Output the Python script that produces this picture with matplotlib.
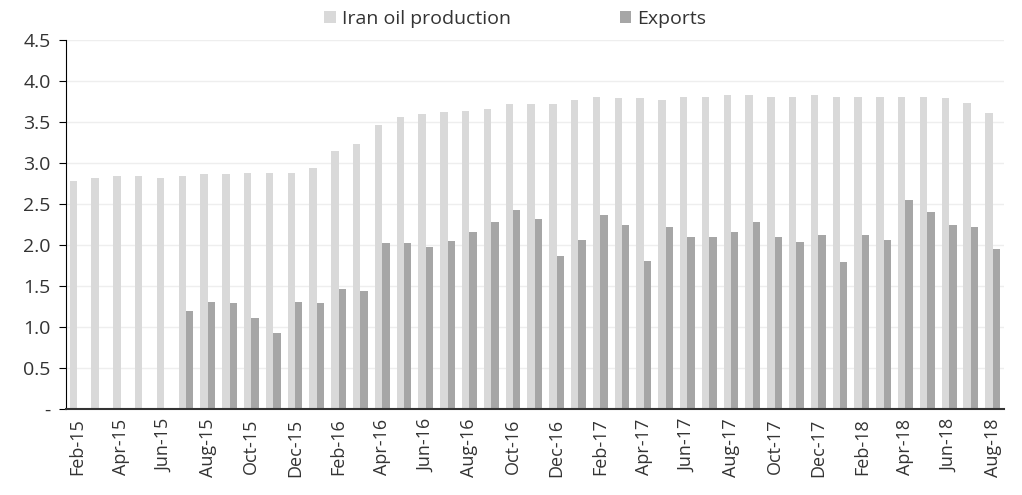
import matplotlib.pyplot as plt
import numpy as np

plt.rcParams['font.family'] = ['Open Sans', 'DejaVu Sans']

months = ["Feb-15", "Mar-15", "Apr-15", "May-15", "Jun-15", "Jul-15", "Aug-15", "Sep-15",
          "Oct-15", "Nov-15", "Dec-15", "Jan-16", "Feb-16", "Mar-16", "Apr-16", "May-16",
          "Jun-16", "Jul-16", "Aug-16", "Sep-16", "Oct-16", "Nov-16", "Dec-16", "Jan-17",
          "Feb-17", "Mar-17", "Apr-17", "May-17", "Jun-17", "Jul-17", "Aug-17", "Sep-17",
          "Oct-17", "Nov-17", "Dec-17", "Jan-18", "Feb-18", "Mar-18", "Apr-18", "May-18",
          "Jun-18", "Jul-18", "Aug-18"]

production = [2.78, 2.82, 2.84, 2.84, 2.82, 2.84, 2.86, 2.86, 2.88, 2.88, 2.88, 2.94,
              3.15, 3.23, 3.46, 3.56, 3.60, 3.62, 3.64, 3.66, 3.72, 3.72, 3.72, 3.77,
              3.81, 3.79, 3.79, 3.77, 3.81, 3.81, 3.83, 3.83, 3.81, 3.81, 3.83, 3.81,
              3.81, 3.81, 3.81, 3.81, 3.79, 3.73, 3.61]

# no export figures before Jul-15
exports = [np.nan, np.nan, np.nan, np.nan, np.nan, 1.19, 1.31, 1.29, 1.11, 0.92, 1.31, 1.29,
           1.46, 1.44, 2.03, 2.03, 1.97, 2.05, 2.16, 2.28, 2.43, 2.32, 1.87, 2.06,
           2.36, 2.24, 1.81, 2.22, 2.10, 2.10, 2.16, 2.28, 2.10, 2.04, 2.12, 1.79,
           2.12, 2.06, 2.55, 2.40, 2.24, 2.22, 1.95]

x = np.arange(len(months))
w = 0.34

fig = plt.figure(figsize=(10.22, 4.95), dpi=100)
ax = fig.add_axes([0.0646, 0.174, 0.9174, 0.745])

ax.bar(x - w / 2, production, width=w, color="#d9d9d9", label="Iran oil production", zorder=2)
ax.bar(x + w / 2, exports, width=w, color="#a6a6a6", label="Exports", zorder=2)

ax.set_xlim(-0.5, len(months) - 0.5)
ax.set_ylim(0, 4.5)
yt = np.arange(0, 4.51, 0.5)
ax.set_yticks(yt)
ax.set_yticklabels(["-"] + ["%.1f" % v for v in yt[1:]], fontsize=14, color="#333333")
ax.set_xticks(x[::2])
ax.set_xticklabels(months[::2], rotation=90, fontsize=13, color="#333333")

ax.yaxis.grid(True, color="#eeeeee", linewidth=1, zorder=0)
ax.set_axisbelow(True)
for s in ["top", "right"]:
    ax.spines[s].set_visible(False)
ax.spines["left"].set_color("black")
ax.spines["bottom"].set_color("#333333")
ax.spines["bottom"].set_linewidth(1.5)
ax.tick_params(axis="x", length=0, pad=7)
ax.tick_params(axis="y", length=5, color="black", pad=6)

fig.legend(loc="upper center", bbox_to_anchor=(0.504, 1.0), ncol=2, frameon=False,
           fontsize=14, handlelength=0.6, handleheight=0.6, handletextpad=0.3,
           columnspacing=5.6, labelcolor="#333333", borderaxespad=0.1)

fig.savefig("out.png", dpi=100)
